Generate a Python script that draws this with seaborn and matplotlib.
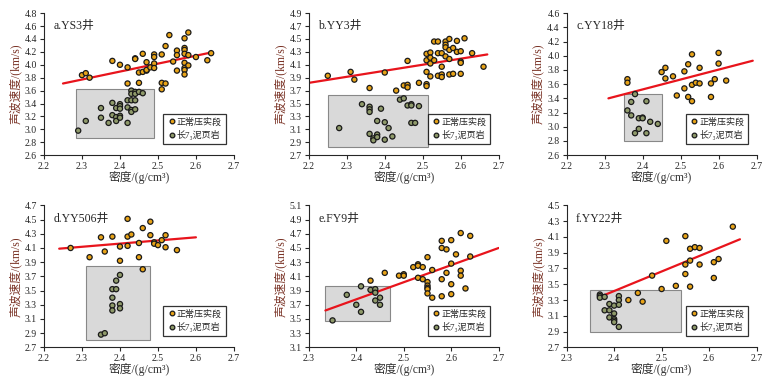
import numpy as np
import pandas as pd
import seaborn as sns
import matplotlib.pyplot as plt
from matplotlib.patches import Rectangle

# a.YS3井
a_norm_x = [2.30, 2.31, 2.32, 2.38, 2.40, 2.42, 2.42, 2.44, 2.44, 2.45, 2.45, 2.46, 2.46, 2.47, 2.47, 2.47, 2.48, 2.49, 2.49, 2.49, 2.49, 2.51, 2.51, 2.51, 2.52, 2.52, 2.53, 2.54, 2.55, 2.55, 2.55, 2.57, 2.57, 2.57, 2.57, 2.57, 2.57, 2.57, 2.57, 2.58, 2.58, 2.58, 2.60, 2.63, 2.64]
a_norm_y = [3.84, 3.87, 3.80, 4.06, 4.00, 3.96, 3.71, 4.10, 4.09, 3.88, 3.72, 4.17, 3.89, 4.04, 3.91, 3.92, 3.96, 4.16, 4.12, 4.02, 3.95, 3.72, 3.62, 4.16, 4.29, 3.71, 4.46, 4.05, 4.22, 4.15, 3.91, 4.41, 4.26, 4.23, 4.17, 4.03, 3.95, 3.92, 3.85, 4.50, 4.15, 3.99, 4.12, 4.07, 4.18]
a_sh_x = [2.29, 2.31, 2.35, 2.35, 2.37, 2.38, 2.38, 2.39, 2.39, 2.39, 2.40, 2.40, 2.40, 2.40, 2.40, 2.42, 2.42, 2.42, 2.43, 2.43, 2.43, 2.43, 2.43, 2.44, 2.44, 2.44, 2.44, 2.45, 2.46]
a_sh_y = [2.98, 3.13, 3.33, 3.18, 3.10, 3.41, 3.22, 3.33, 3.19, 3.13, 3.39, 3.36, 3.32, 3.21, 3.18, 3.34, 3.10, 3.45, 3.60, 3.55, 3.45, 3.30, 3.27, 3.58, 3.55, 3.45, 3.31, 3.58, 3.56]

# b.YY3井
b_norm_x = [2.25, 2.31, 2.32, 2.36, 2.40, 2.43, 2.45, 2.46, 2.46, 2.46, 2.49, 2.51, 2.51, 2.51, 2.51, 2.51, 2.52, 2.52, 2.52, 2.52, 2.53, 2.53, 2.54, 2.54, 2.54, 2.55, 2.55, 2.55, 2.55, 2.56, 2.56, 2.56, 2.56, 2.57, 2.57, 2.57, 2.57, 2.58, 2.58, 2.59, 2.59, 2.60, 2.60, 2.60, 2.60, 2.61, 2.63, 2.66]
b_norm_y = [3.93, 3.99, 3.87, 3.74, 3.98, 3.70, 3.78, 4.16, 3.79, 3.75, 3.82, 4.27, 4.17, 3.99, 3.80, 3.77, 4.29, 4.21, 4.12, 3.92, 4.46, 4.17, 4.46, 4.28, 3.93, 4.28, 4.07, 3.95, 3.91, 4.46, 4.41, 4.37, 4.23, 4.50, 4.33, 4.19, 3.95, 4.36, 3.96, 4.47, 4.30, 4.31, 4.15, 4.13, 3.96, 4.51, 4.28, 4.07]
b_sh_x = [2.28, 2.34, 2.36, 2.36, 2.36, 2.36, 2.37, 2.37, 2.38, 2.38, 2.38, 2.39, 2.40, 2.40, 2.41, 2.42, 2.44, 2.45, 2.46, 2.47, 2.47, 2.47, 2.48, 2.49]
b_sh_y = [3.12, 3.49, 3.45, 3.41, 3.37, 3.03, 2.96, 2.93, 3.23, 3.02, 2.98, 3.42, 3.21, 2.94, 3.12, 2.99, 3.56, 3.58, 3.47, 3.49, 3.47, 3.20, 3.20, 3.46]

# c.YY18井
c_norm_x = [2.36, 2.36, 2.45, 2.46, 2.46, 2.48, 2.49, 2.51, 2.51, 2.52, 2.52, 2.53, 2.53, 2.53, 2.54, 2.55, 2.55, 2.58, 2.58, 2.59, 2.60, 2.60, 2.62]
c_norm_y = [3.67, 3.62, 3.77, 3.83, 3.68, 3.71, 3.44, 3.78, 3.54, 3.88, 3.42, 4.02, 3.59, 3.36, 3.62, 3.83, 3.61, 3.61, 3.42, 3.67, 4.04, 3.89, 3.65]
c_sh_x = [2.36, 2.37, 2.37, 2.38, 2.38, 2.39, 2.39, 2.40, 2.40, 2.41, 2.41, 2.42, 2.44]
c_sh_y = [3.23, 3.35, 3.16, 3.46, 2.91, 3.12, 2.97, 3.13, 3.12, 3.36, 2.91, 3.07, 3.04]

# d.YY506井
d_norm_x = [2.27, 2.32, 2.35, 2.36, 2.38, 2.40, 2.40, 2.42, 2.42, 2.42, 2.43, 2.45, 2.45, 2.46, 2.46, 2.48, 2.48, 2.49, 2.49, 2.50, 2.51, 2.52, 2.52, 2.55]
d_norm_y = [4.10, 3.97, 4.25, 4.05, 4.26, 4.12, 3.92, 4.51, 4.26, 4.13, 4.29, 4.17, 3.97, 4.38, 3.80, 4.47, 4.28, 4.18, 4.16, 4.14, 4.21, 4.28, 4.11, 4.07]
d_sh_x = [2.35, 2.36, 2.38, 2.38, 2.38, 2.38, 2.39, 2.39, 2.40, 2.40, 2.40]
d_sh_y = [2.88, 2.90, 3.52, 3.40, 3.29, 3.22, 3.64, 3.52, 3.72, 3.31, 3.25]

# e.FY9井
e_norm_x = [2.43, 2.46, 2.49, 2.50, 2.50, 2.52, 2.53, 2.53, 2.53, 2.54, 2.54, 2.55, 2.55, 2.55, 2.55, 2.55, 2.55, 2.56, 2.56, 2.58, 2.58, 2.58, 2.58, 2.59, 2.59, 2.60, 2.60, 2.60, 2.60, 2.61, 2.62, 2.62, 2.62, 2.63, 2.64, 2.64]
e_norm_y = [4.04, 4.15, 4.11, 4.13, 4.11, 4.23, 4.27, 4.25, 4.08, 4.23, 4.06, 4.37, 4.02, 3.97, 3.94, 3.92, 3.86, 4.19, 3.80, 4.60, 4.50, 4.06, 3.82, 4.48, 4.15, 4.61, 4.28, 3.99, 3.85, 4.41, 4.71, 4.18, 4.11, 3.93, 4.67, 4.38]
e_sh_x = [2.35, 2.38, 2.40, 2.41, 2.41, 2.43, 2.44, 2.44, 2.44, 2.45, 2.45]
e_sh_y = [3.48, 3.84, 3.70, 3.96, 3.60, 3.91, 3.92, 3.87, 3.76, 3.80, 3.70]

# f.YY22井
f_norm_x = [2.43, 2.45, 2.46, 2.48, 2.50, 2.51, 2.53, 2.55, 2.55, 2.55, 2.56, 2.56, 2.56, 2.57, 2.58, 2.58, 2.61, 2.61, 2.62, 2.65]
f_norm_y = [3.30, 3.39, 3.28, 3.61, 3.44, 4.05, 3.48, 4.11, 3.75, 3.63, 3.95, 3.80, 3.47, 3.97, 3.96, 3.75, 3.78, 3.58, 3.82, 4.23]
f_sh_x = [2.37, 2.37, 2.37, 2.38, 2.38, 2.39, 2.39, 2.39, 2.40, 2.40, 2.40, 2.40, 2.40, 2.41, 2.41, 2.41, 2.41]
f_sh_y = [3.37, 3.35, 3.33, 3.34, 3.17, 3.25, 3.17, 3.08, 3.23, 3.13, 3.06, 3.04, 3.02, 3.35, 3.30, 3.24, 2.96]

titles = ['a.YS3井', 'b.YY3井', 'c.YY18井', 'd.YY506井', 'e.FY9井', 'f.YY22井']
norm_x = [a_norm_x, b_norm_x, c_norm_x, d_norm_x, e_norm_x, f_norm_x]
norm_y = [a_norm_y, b_norm_y, c_norm_y, d_norm_y, e_norm_y, f_norm_y]
sh_x = [a_sh_x, b_sh_x, c_sh_x, d_sh_x, e_sh_x, f_sh_x]
sh_y = [a_sh_y, b_sh_y, c_sh_y, d_sh_y, e_sh_y, f_sh_y]
# 趋势线端点 (x1, y1, x2, y2)
fit_lines = [(2.25, 3.71, 2.64, 4.19), (2.20, 3.82, 2.67, 4.26), (2.31, 3.40, 2.69, 3.93),
             (2.24, 4.09, 2.60, 4.25), (2.335, 3.62, 2.70, 4.50), (2.37, 3.34, 2.665, 4.07)]
# 灰色框 (x0, x1, y0, y1)
boxes = [(2.285, 2.49, 2.87, 3.62), (2.25, 2.515, 2.82, 3.63), (2.35, 2.45, 2.80, 3.46),
         (2.31, 2.48, 2.80, 3.85), (2.335, 2.47, 3.47, 3.96), (2.35, 2.54, 2.90, 3.43)]
xlims = [(2.2, 2.7), (2.2, 2.7), (2.2, 2.7), (2.2, 2.7), (2.3, 2.7), (2.3, 2.7)]
ylims = [(2.6, 4.8), (2.7, 4.9), (2.6, 4.6), (2.7, 4.7), (3.1, 5.1), (2.7, 4.5)]

sns.set_style('ticks')
plt.rcParams['font.family'] = ['Liberation Serif', 'Noto Sans CJK SC', 'DejaVu Serif']
plt.rcParams['axes.unicode_minus'] = False

fig = plt.figure(figsize=(7.72, 3.86), dpi=100)
lefts = [0.057, 0.400, 0.734]
bottoms = [0.598, 0.100]
lab_norm = '正常压实段'
lab_sh = '长7₃泥页岩'
palette = {lab_norm: '#e8a317', lab_sh: '#8f9a6a'}

for i in range(6):
    ax = fig.add_axes([lefts[i % 3], bottoms[i // 3], 0.246, 0.368])
    x0, x1, y0, y1 = boxes[i]
    ax.add_patch(Rectangle((x0, y0), x1 - x0, y1 - y0, facecolor='#d9d9d9',
                           edgecolor='#888888', linewidth=0.8, zorder=0))
    df = pd.DataFrame({
        '密度': norm_x[i] + sh_x[i],
        '速度': norm_y[i] + sh_y[i],
        '类型': [lab_norm] * len(norm_x[i]) + [lab_sh] * len(sh_x[i]),
    })
    sns.scatterplot(data=df, x='密度', y='速度', hue='类型', palette=palette, s=14,
                    edgecolor='#1a1a1a', linewidth=0.9, ax=ax, zorder=3)
    lx1, ly1, lx2, ly2 = fit_lines[i]
    ax.plot([lx1, lx2], [ly1, ly2], color='#e8141c', linewidth=1.6, zorder=2)
    ax.set_xlim(*xlims[i])
    ax.set_ylim(*ylims[i])
    ax.set_xticks(np.round(np.arange(xlims[i][0], xlims[i][1] + 0.01, 0.1), 1))
    ax.set_yticks(np.round(np.arange(ylims[i][0], ylims[i][1] + 0.01, 0.2), 1))
    ax.tick_params(labelsize=7, length=3, width=0.8, direction='out', pad=2)
    sns.despine(ax=ax)
    ax.set_xlabel('密度/(g/cm³)', fontsize=8.5, color='#333333', labelpad=0)
    ax.set_ylabel('声波速度/(km/s)', fontsize=8.5, color='#7a3326', labelpad=2)
    ax.text(0.05, 0.95, titles[i], transform=ax.transAxes, fontsize=8.5,
            va='top', ha='left')
    leg = ax.legend(loc='lower right', bbox_to_anchor=(0.98, 0.05), fontsize=6.5,
                    frameon=True, fancybox=False, handletextpad=0.1,
                    borderpad=0.4, labelspacing=0.4, handlelength=1.0, markerscale=0.9)
    leg.get_frame().set_edgecolor('black')
    leg.get_frame().set_linewidth(0.9)
    leg.set_title(None)

fig.savefig('out.png', dpi=100)
